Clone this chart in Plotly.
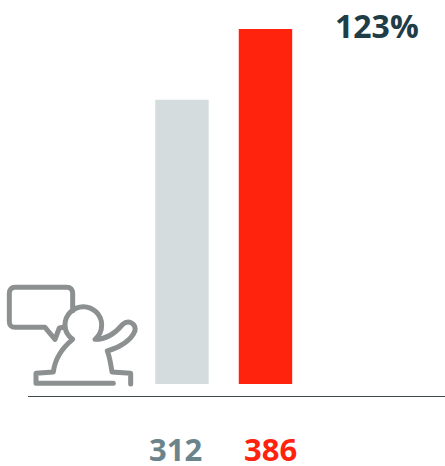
import plotly.graph_objects as go

categories = ["A", "B"]
bar_values = [309, 386]
value_labels = ["312", "386"]
label_shifts = [-6, 5.5]
bar_colors = ["#d5dcdd", "#ff230d"]
label_colors = ["#6b848c", "#ff230d"]
ratio_label = "123%"

W, H = 445, 466
ML, MB = 28, 70
PW, PH = W - ML, H - MB
FONT = "Open Sans, Noto Sans, sans-serif"


def fx(zx):
    return (zx / 3 - ML) / PW


def fy(zy):
    return (PH - (zy / 3 + 270)) / PH


def path(cmds):
    out = []
    for c in cmds:
        cmd, pts = c[0], c[1:]
        out.append(cmd + " ".join(f"{fx(x):.5f},{fy(y):.5f}" for x, y in pts))
    return " ".join(out)


bubble = [
    ("M", (190, 172)), ("L", (178, 174)), ("L", (165, 208)), ("L", (135, 172)),
    ("L", (45, 172)), ("C", (34, 172), (28, 165), (28, 155)),
    ("L", (28, 70)), ("C", (28, 59), (34, 52), (45, 52)),
    ("L", (201, 52)), ("C", (212, 52), (218, 59), (218, 70)),
    ("L", (218, 122)),
]
person = [
    ("M", (340, 340)), ("L", (108, 340)), ("L", (108, 310)), ("L", (160, 306)),
    ("C", (165, 265), (185, 235), (218, 208)),
    ("C", (200, 195), (195, 180), (195, 165)),
    ("C", (195, 135), (220, 110), (250, 110)),
    ("C", (280, 110), (305, 135), (305, 165)),
    ("C", (305, 180), (297, 198), (285, 208)),
    ("C", (325, 208), (350, 185), (368, 163)),
    ("C", (385, 148), (408, 160), (405, 182)),
    ("C", (395, 210), (360, 232), (322, 243)),
    ("C", (330, 265), (333, 285), (336, 306)),
    ("L", (392, 310)), ("L", (392, 342)),
]

icon_line = dict(color="#8c9090", width=5)
shapes = [
    dict(type="path", xref="paper", yref="paper", path=path(bubble), line=icon_line),
    dict(type="path", xref="paper", yref="paper", path=path(person), line=icon_line),
]

fig = go.Figure(go.Bar(
    x=[0, 1], y=bar_values, width=0.64,
    marker=dict(color=bar_colors, line_width=0),
    customdata=categories, hoverinfo="skip",
))

annotations = [
    dict(x=i, y=-0.135, xref="x", yref="paper", xshift=s, text=f"<b>{t}</b>", showarrow=False,
         font=dict(family=FONT, size=31, color=c), xanchor="center", yanchor="middle")
    for i, (t, c, s) in enumerate(zip(value_labels, label_colors, label_shifts))
]
annotations.append(dict(
    x=2.34, y=0.935, xref="x", yref="paper", text=f"<b>{ratio_label}</b>", showarrow=False,
    font=dict(family=FONT, size=32, color="#1f3d47"), xanchor="center", yanchor="middle",
))

fig.update_layout(
    width=W, height=H,
    margin=dict(l=ML, r=0, t=0, b=MB),
    paper_bgcolor="white", plot_bgcolor="white",
    showlegend=False,
    shapes=shapes,
    annotations=annotations,
    xaxis=dict(range=[-1.844, 3.15], showgrid=False, zeroline=False, showticklabels=False,
               ticks="", showline=True, linecolor="#3c4a4c", linewidth=1),
    yaxis=dict(range=[-13.05, 417.5], showgrid=False, zeroline=False, showticklabels=False,
               ticks="", showline=False),
)

fig.write_html("out.html", config=dict(displayModeBar=False),
               post_script="document.body.style.margin='0';"
               "document.querySelectorAll('.shapelayer path').forEach(function(p){"
               "p.style.strokeLinejoin='round';p.style.strokeLinecap='round';});")
